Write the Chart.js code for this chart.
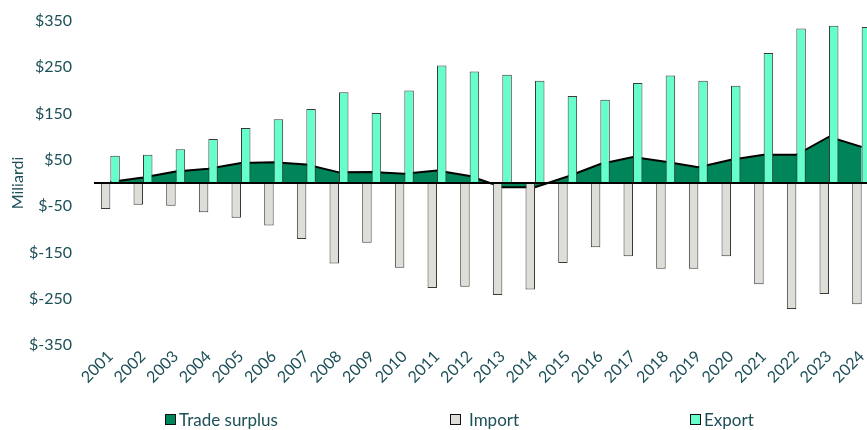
<!DOCTYPE html>
<html lang="en">
<head>
  <meta charset="UTF-8" />
  <title>Trade surplus</title>
  <script src="https://cdn.jsdelivr.net/npm/chart.js"></script>
  <style>
    html, body { margin: 0; padding: 0; background: #fff; overflow: hidden; }
    #wrap { position: relative; width: 880px; height: 430px; }
    .legend { position: absolute; top: 409px; font: 17px Lato, sans-serif; color: #1d4f58; display: flex; align-items: center; }
    .legend i { display: inline-block; width: 9px; height: 9px; border: 1px solid #111; margin-right: 3px; }
  </style>
</head>
<body>
  <div id="wrap">
    <canvas id="tradeChart" width="880" height="430"></canvas>
    <div class="legend" style="left:165px"><i style="background:#00845a"></i>Trade surplus</div>
    <div class="legend" style="left:450px"><i style="background:#deddd7;margin-right:8px"></i>Import</div>
    <div class="legend" style="left:690px"><i style="background:#66ffcc"></i>Export</div>
  </div>

  <script>
    const years = ["2001","2002","2003","2004","2005","2006","2007","2008","2009","2010","2011","2012",
                   "2013","2014","2015","2016","2017","2018","2019","2020","2021","2022","2023","2024"];
    const tradeSurplus = [2, 12, 25, 31, 43, 45, 40, 23, 24, 20, 27, 15, -9, -9, 14, 41, 56, 46, 34, 50, 61, 61, 100, 78];
    const importValues = [-56, -47, -49, -63, -75, -92, -121, -174, -129, -183, -227, -224,
                          -242, -230, -173, -139, -158, -185, -185, -158, -219, -272, -240, -262];
    const exportValues = [59, 61, 73, 95, 119, 138, 160, 196, 151, 200, 254, 241,
                          234, 221, 188, 180, 216, 232, 221, 210, 281, 334, 340, 337];
    const yTicks = [-350, -250, -150, -50, 50, 150, 250, 350];

    const textColor = "#1d4f58";

    // black axis line through zero
    const zeroLine = {
      id: "zeroLine",
      afterDatasetsDraw(chart) {
        const y = chart.scales.y.getPixelForValue(0);
        const ctx = chart.ctx;
        ctx.save();
        ctx.strokeStyle = "#000";
        ctx.lineWidth = 2;
        ctx.beginPath();
        ctx.moveTo(chart.chartArea.left, y);
        ctx.lineTo(chart.chartArea.right, y);
        ctx.stroke();
        ctx.restore();
      }
    };

    const ctx = document.getElementById("tradeChart").getContext("2d");
    new Chart(ctx, {
      type: "bar",
      data: {
        labels: years,
        datasets: [
          {
            type: "line",
            label: "Trade surplus",
            data: tradeSurplus,
            fill: "origin",
            backgroundColor: "#00845a",
            borderColor: "#000",
            borderWidth: 2,
            pointRadius: 0,
            tension: 0,
            order: 2
          },
          {
            label: "Import",
            data: importValues,
            backgroundColor: "#deddd7",
            borderColor: "#3a3a3a",
            borderWidth: 1,
            categoryPercentage: 0.58,
            barPercentage: 1,
            order: 1
          },
          {
            label: "Export",
            data: exportValues,
            backgroundColor: "#66ffcc",
            borderColor: "#3a3a3a",
            borderWidth: 1,
            categoryPercentage: 0.58,
            barPercentage: 1,
            order: 1
          }
        ]
      },
      options: {
        responsive: false,
        animation: false,
        layout: { padding: { top: 21, right: 2, bottom: 28, left: 0 } },
        plugins: {
          legend: { display: false },
          tooltip: { enabled: false }
        },
        scales: {
          x: {
            grid: { display: false, drawTicks: false },
            border: { display: false },
            ticks: {
              autoSkip: false,
              maxRotation: 45,
              minRotation: 45,
              padding: 2,
              color: textColor,
              font: { family: "Lato", size: 16 }
            },
            afterFit(scale) { scale.height = 57; }
          },
          y: {
            min: -350,
            max: 350,
            afterBuildTicks(scale) { scale.ticks = yTicks.map(v => ({ value: v })); },
            grid: { display: false, drawTicks: false },
            border: { display: false },
            ticks: {
              padding: 22,
              color: textColor,
              font: { family: "Lato", size: 16 },
              callback: v => "$" + v
            },
            title: {
              display: true,
              text: "Miliardi",
              color: textColor,
              font: { family: "Lato", size: 16 },
              padding: { top: 8, bottom: 0 }
            },
            afterFit(scale) {
              scale.width = 94;
              scale.paddingTop = 0;
              scale.paddingBottom = 0;
            }
          }
        }
      },
      plugins: [zeroLine]
    });
  </script>
</body>
</html>
